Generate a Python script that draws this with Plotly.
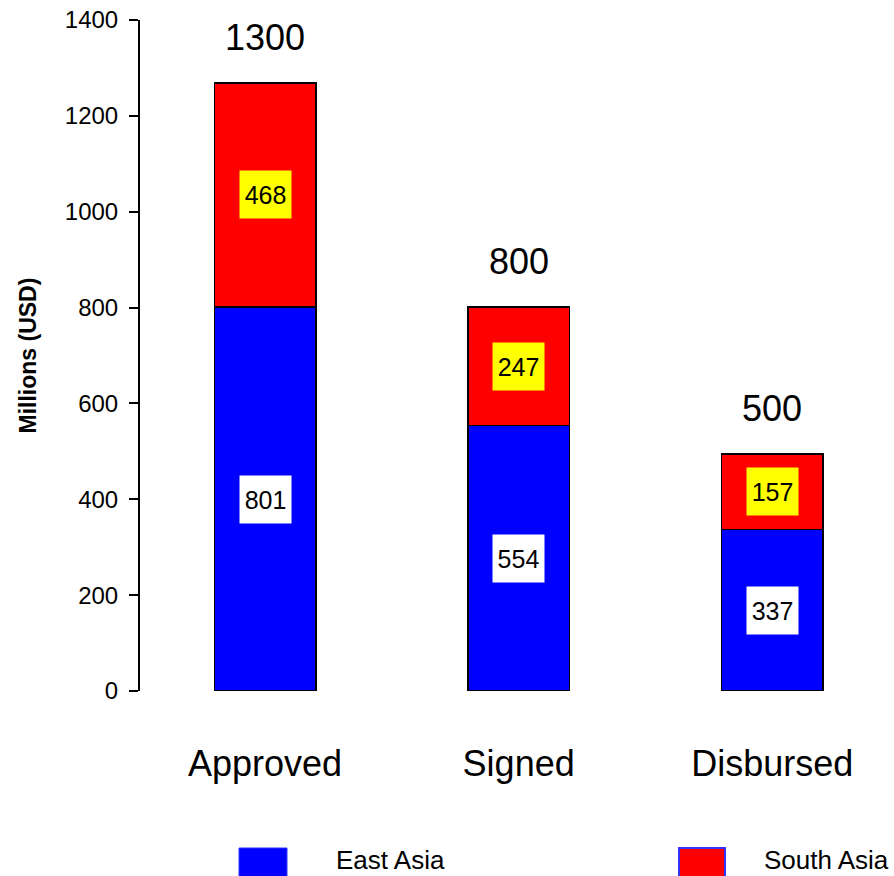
import plotly.graph_objects as go

categories = ["Approved", "Signed", "Disbursed"]
east_asia = [801, 554, 337]
south_asia = [468, 247, 157]
total_labels = ["1300", "800", "500"]
series_names = ["East Asia", "South Asia"]
y_ticks = [0, 200, 400, 600, 800, 1000, 1200, 1400]

FONT = "Liberation Sans, Arial, sans-serif"
xs = list(range(len(categories)))

fig = go.Figure()
fig.add_trace(go.Bar(x=xs, y=east_asia, name=series_names[0], width=0.4,
                     marker=dict(color="#0000ff", line=dict(color="black", width=1.5)),
                     showlegend=False))
fig.add_trace(go.Bar(x=xs, y=south_asia, name=series_names[1], width=0.4,
                     marker=dict(color="#ff0000", line=dict(color="black", width=1.5)),
                     showlegend=False))

annotations = []
for i, (ea, sa, tl) in enumerate(zip(east_asia, south_asia, total_labels)):
    annotations.append(dict(x=i, y=ea / 2, xref="x", yref="y", text=str(ea), showarrow=False,
                            bgcolor="white", width=49, height=45,
                            font=dict(family=FONT, size=25, color="black")))
    annotations.append(dict(x=i, y=ea + sa / 2, xref="x", yref="y", text=str(sa), showarrow=False,
                            bgcolor="#ffff00", width=49, height=45,
                            font=dict(family=FONT, size=25, color="black")))
    annotations.append(dict(x=i, y=ea + sa, xref="x", yref="y", text=tl, showarrow=False,
                            yanchor="bottom", yshift=23,
                            font=dict(family=FONT, size=36, color="black")))

# y-axis title
annotations.append(dict(x=0, y=0.5, xref="paper", yref="paper", text="<b>Millions (USD)</b>",
                        showarrow=False, textangle=-90, xanchor="center", yanchor="middle",
                        xshift=-113, font=dict(family=FONT, size=23, color="black")))

# legend
W_DOM = 754.0
H_DOM = 671.0
def px_x(px):
    return (px - 140) / W_DOM
def px_y(py):
    return (691 - py) / H_DOM

shapes = [
    dict(type="rect", xref="paper", yref="paper", x0=px_x(239), x1=px_x(287),
         y0=px_y(880), y1=px_y(848), fillcolor="#0000ff", line=dict(color="#3333ff", width=1)),
    dict(type="rect", xref="paper", yref="paper", x0=px_x(679), x1=px_x(725),
         y0=px_y(880), y1=px_y(848), fillcolor="#ff0000", line=dict(color="#3333ff", width=2)),
]
annotations.append(dict(x=px_x(334), y=px_y(860), xref="paper", yref="paper", text=series_names[0],
                        showarrow=False, xanchor="left", yanchor="middle",
                        font=dict(family=FONT, size=26, color="black")))
annotations.append(dict(x=px_x(762), y=px_y(860), xref="paper", yref="paper", text=series_names[1],
                        showarrow=False, xanchor="left", yanchor="middle",
                        font=dict(family=FONT, size=26, color="black")))

fig.update_layout(
    barmode="stack",
    width=894, height=876,
    margin=dict(l=140, r=0, t=20, b=185, autoexpand=False),
    paper_bgcolor="white", plot_bgcolor="white",
    annotations=annotations, shapes=shapes,
    font=dict(family=FONT, color="black"),
    xaxis=dict(range=[-0.493, 2.48], tickmode="array", tickvals=xs, ticktext=categories,
               showline=False, showgrid=False, zeroline=False, ticks="",
               tickfont=dict(family=FONT, size=36, color="black"), ticklabelstandoff=48),
    yaxis=dict(range=[0, 1400], tickmode="array", tickvals=y_ticks,
               ticktext=[str(t) for t in y_ticks],
               showline=True, linecolor="black", linewidth=2, showgrid=False, zeroline=False,
               ticks="outside", ticklen=9, tickwidth=2, tickcolor="black",
               tickfont=dict(family=FONT, size=24, color="black"), ticklabelstandoff=6),
)

fig.write_html("out.html", config={"displayModeBar": False},
               post_script="document.body.style.margin='0px';")
